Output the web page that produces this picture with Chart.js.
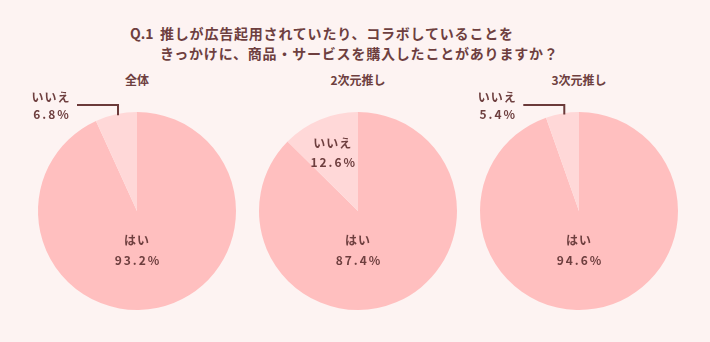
<!DOCTYPE html>
<html>
<head>
<meta charset="utf-8">
<script src="https://cdn.jsdelivr.net/npm/chart.js@4/dist/chart.umd.min.js"></script>
<style>
  html, body { margin: 0; padding: 0; }
  body {
    width: 710px; height: 342px; background: #fdf3f2; position: relative; overflow: hidden;
    font-family: "Noto Sans CJK JP", "Noto Sans", sans-serif; color: #6e3f3f;
  }
  .title { position: absolute; left: 130px; top: 23px; font-size: 14px; font-weight: bold; letter-spacing: 0.8px; line-height: 20px; }
  .title .q { display: inline-block; width: 30px; letter-spacing: 0; }
  .title .l2 { padding-left: 30px; }
  .sub { position: absolute; top: 71px; width: 160px; text-align: center; font-size: 12px; font-weight: bold; }
  .box { position: absolute; top: 70px; width: 236px; height: 270px; }
</style>
</head>
<body>
<div class="title"><span class="q">Q.1</span>推しが広告起用されていたり、コラボしていることを<div class="l2">きっかけに、商品・サービスを購入したことがありますか？</div></div>

<script>
// data
const categories = ["はい", "いいえ"];
const groups = ["全体", "2次元推し", "3次元推し"];
const yesValues = [93.2, 87.4, 94.6];
const noValues = [6.8, 12.6, 5.4];
const centersX = [137, 358, 579];

const sliceColors = ["#ffbfbf", "#ffd8d8"];
const textColor = "#6e3f3f";

// labels drawn onto the pie
const labelPlugin = {
  id: "pieLabels",
  afterDatasetsDraw(chart) {
    const ctx = chart.ctx;
    const meta = chart.getDatasetMeta(0);
    const values = chart.data.datasets[0].data;
    ctx.save();
    ctx.fillStyle = textColor;
    ctx.textAlign = "center";
    ctx.textBaseline = "middle";
    meta.data.forEach((arc, i) => {
      const p = arc.getProps(["x", "y", "startAngle", "endAngle", "outerRadius"], true);
      const r = p.outerRadius;
      const mid = (p.startAngle + p.endAngle) / 2;
      const pct = values[i].toFixed(1) + "%";
      const name = chart.data.labels[i];
      let lx, ly, gap = 19;
      if (values[i] > 50) {
        lx = p.x;
        ly = p.y + 0.3 * r;
        gap = 20;
      } else if (values[i] >= 10) {
        lx = p.x + Math.cos(mid) * 0.66 * r;
        ly = p.y + Math.sin(mid) * 0.66 * r - 7;
      } else {
        // leader line
        const ex = p.x + Math.cos(mid) * r + 2;
        const ey = p.y + Math.sin(mid) * r;
        const topY = p.y - r - 7;
        ctx.strokeStyle = "#6b3a3a";
        ctx.lineWidth = 2;
        ctx.beginPath();
        ctx.moveTo(ex, ey + 1);
        ctx.lineTo(ex, topY);
        ctx.lineTo(ex - 41, topY);
        ctx.stroke();
        lx = ex - 67;
        ly = topY - 8;
        gap = 17;
      }
      ctx.font = "bold 12px 'Noto Sans CJK JP'";
      ctx.letterSpacing = "1px";
      ctx.fillText(name, lx, ly);
      ctx.letterSpacing = "2px";
      ctx.fillText(pct, lx + 1, ly + gap);
    });
    ctx.restore();
  }
};

groups.forEach((g, k) => {
  const sub = document.createElement("div");
  sub.className = "sub";
  sub.style.left = (centersX[k] - 80) + "px";
  sub.textContent = g;
  document.body.appendChild(sub);

  const box = document.createElement("div");
  box.className = "box";
  box.style.left = (centersX[k] - 118) + "px";
  const cv = document.createElement("canvas");
  box.appendChild(cv);
  document.body.appendChild(box);

  new Chart(cv, {
    type: "pie",
    data: {
      labels: categories,
      datasets: [{
        data: [yesValues[k], noValues[k]],
        backgroundColor: sliceColors,
        borderWidth: 0,
        radius: 99
      }]
    },
    options: {
      responsive: true,
      maintainAspectRatio: false,
      animation: false,
      layout: { padding: { top: 12 } },
      plugins: { legend: { display: false }, tooltip: { enabled: false } }
    },
    plugins: [labelPlugin]
  });
});
</script>
</body>
</html>
